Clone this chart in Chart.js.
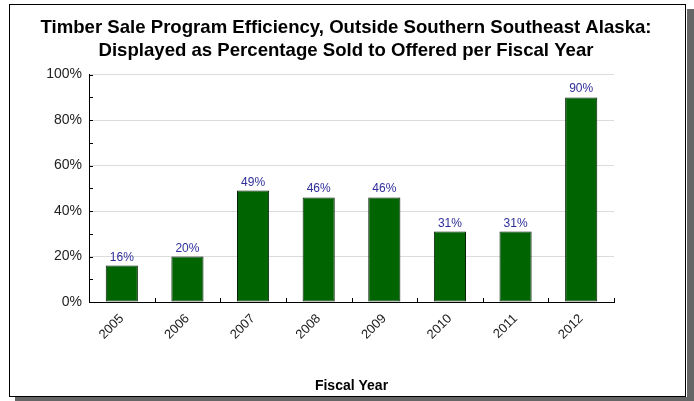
<!DOCTYPE html>
<html>
<head>
<meta charset="utf-8">
<script src="https://cdn.jsdelivr.net/npm/chart.js@4"></script>
<style>
  html, body { margin: 0; padding: 0; background: #fff; }
  #wrap { width: 694px; height: 401px; position: relative; }
</style>
</head>
<body>
<div id="wrap"><canvas id="chart" width="694" height="401"></canvas></div>
<script>
// data
const years = ['2005', '2006', '2007', '2008', '2009', '2010', '2011', '2012'];
const pctSold = [16, 20, 49, 46, 46, 31, 31, 90];
const yTicks = [0, 20, 40, 60, 80, 100];

// frame with a grey drop shadow round the whole picture
const framePlugin = {
    id: 'frame',
    beforeDraw(chart) {
        const c = chart.ctx;
        c.save();
        c.fillStyle = '#fff';
        c.fillRect(0, 0, chart.width, chart.height);
        c.fillStyle = '#666';
        c.fillRect(15, 397, 679, 4);
        c.fillRect(687, 9, 7, 392);
        c.strokeStyle = '#000';
        c.lineWidth = 1;
        c.strokeRect(9.5, 4.5, 676, 392);
        c.restore();
    }
};

// small inward tick marks on both axes + value labels
const ticksPlugin = {
    id: 'innerTicks',
    afterDatasetsDraw(chart) {
        const c = chart.ctx, y = chart.scales.y;
        const area = chart.chartArea;
        c.save();
        c.strokeStyle = '#000';
        c.lineWidth = 1;
        c.beginPath();
        for (let v = 0; v <= 100; v += 10) {
            const py = Math.round(y.getPixelForValue(v)) + 0.5;
            c.moveTo(area.left, py);
            c.lineTo(area.left + 4, py);
        }
        const step = (area.right - area.left) / years.length;
        for (let i = 1; i <= years.length; i++) {
            const px = Math.round(area.left + step * i) + 0.5;
            c.moveTo(px, area.bottom);
            c.lineTo(px, area.bottom - 4);
        }
        c.stroke();
        c.fillStyle = '#2e2e9a';
        c.font = '12px "Liberation Sans", Arial, sans-serif';
        c.textAlign = 'center';
        c.textBaseline = 'alphabetic';
        chart.getDatasetMeta(0).data.forEach((bar, i) => {
            c.fillText(pctSold[i] + '%', bar.x, bar.y - 5);
        });
        c.restore();
    }
};

const fontFam = '"Liberation Sans", Arial, sans-serif';

new Chart(document.getElementById('chart'), {
    type: 'bar',
    data: {
        labels: years,
        datasets: [{
            data: pctSold,
            backgroundColor: '#006400',
            borderColor: '#0a1f0a',
            borderWidth: 1,
            borderSkipped: false,
            categoryPercentage: 1,
            barPercentage: 0.49
        }]
    },
    options: {
        responsive: false,
        animation: false,
        devicePixelRatio: 1,
        layout: { padding: { left: 10, right: 12, top: 17, bottom: 6 } },
        plugins: {
            legend: { display: false },
            tooltip: { enabled: false },
            title: {
                display: true,
                text: ['Timber Sale Program Efficiency, Outside Southern Southeast Alaska:',
                       'Displayed as Percentage Sold to Offered per Fiscal Year'],
                color: '#000',
                font: { family: fontFam, size: 18.6, weight: 'bold', lineHeight: 1.2 },
                padding: { top: 0, bottom: 13 }
            }
        },
        scales: {
            x: {
                grid: { display: false, drawTicks: false },
                border: { display: true, color: '#000', width: 1 },
                ticks: {
                    color: '#222',
                    font: { family: fontFam, size: 13 },
                    minRotation: 45,
                    maxRotation: 45,
                    padding: 9
                },
                title: {
                    display: true,
                    text: 'Fiscal Year',
                    color: '#000',
                    font: { family: fontFam, size: 14, weight: 'bold' },
                    padding: { top: 14, bottom: 0 }
                },
                afterFit: s => { s.height = 93; }
            },
            y: {
                min: 0,
                max: 100,
                afterBuildTicks: s => { s.ticks = yTicks.map(v => ({ value: v })); },
                grid: {
                    color: ctx => ctx.tick && ctx.tick.value > 0 ? '#dcdcdc' : 'rgba(0,0,0,0)',
                    drawTicks: false
                },
                border: { display: true, color: '#000', width: 1 },
                ticks: {
                    color: '#222',
                    font: { family: fontFam, size: 14 },
                    padding: 7,
                    callback: v => v + '%'
                },
                afterFit: s => { s.width = 79; }
            },
            // empty right-hand space so the plot ends where the reference's does
            spacer: {
                type: 'linear',
                position: 'right',
                display: true,
                grid: { display: false, drawTicks: false },
                border: { display: false },
                ticks: { display: false },
                afterFit: s => { s.width = 68; }
            }
        }
    },
    plugins: [framePlugin, ticksPlugin]
});
</script>
</body>
</html>
